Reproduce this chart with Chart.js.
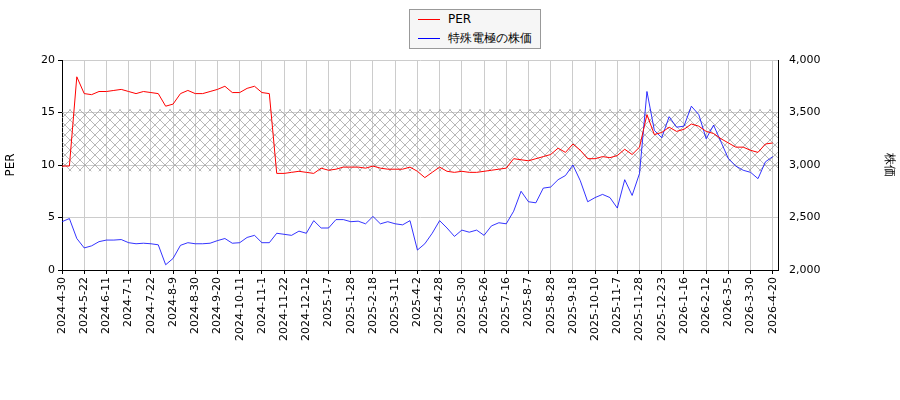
<!DOCTYPE html>
<html lang="ja">
<head>
<meta charset="UTF-8">
<title>PER</title>
<script src="https://cdn.jsdelivr.net/npm/chart.js"></script>
<style>
  body { margin: 0; background: #fff; }
  #wrap { position: relative; width: 900px; height: 400px; }
  .legend { position: absolute; left: 409px; top: 9px; width: 130px; height: 38px; border: 1px solid #999; background: #f6f6f6;
            font: 12px "DejaVu Sans", sans-serif; }
  .legend div { position: absolute; left: 8px; }
  .legend span { display: inline-block; width: 22px; height: 0; border-top: 1px solid; vertical-align: middle; margin-right: 8px; }
</style>
</head>
<body>
<div id="wrap">
  <canvas id="chart" width="900" height="400"></canvas>
  <div class="legend">
    <div style="top:2px"><span style="border-color:red"></span>PER</div>
    <div style="top:20px"><span style="border-color:blue"></span>特殊電極の株価</div>
  </div>
</div>
<script>
  // one point every 5 trading days, one tick label every 3 points
  const tickLabels = ['2024-4-30','2024-5-22','2024-6-11','2024-7-1','2024-7-22','2024-8-9','2024-8-30','2024-9-20',
    '2024-10-11','2024-11-1','2024-11-22','2024-12-12','2025-1-7','2025-1-28','2025-2-18','2025-3-11','2025-4-2',
    '2025-4-28','2025-5-30','2025-6-26','2025-7-16','2025-8-7','2025-8-28','2025-9-18','2025-10-10','2025-11-7',
    '2025-11-28','2025-12-23','2026-1-16','2026-2-12','2026-3-5','2026-3-30','2026-4-20'];

  const perValues = [9.9,9.9,18.4,16.8,16.7,17.0,17.0,17.1,17.2,17.0,16.8,17.0,16.9,16.8,15.6,15.8,16.8,17.1,16.8,16.8,
    17.0,17.2,17.5,16.9,16.9,17.3,17.5,16.9,16.8,9.2,9.2,9.3,9.4,9.3,9.2,9.7,9.5,9.6,9.8,9.8,
    9.8,9.7,9.9,9.7,9.6,9.6,9.6,9.8,9.4,8.8,9.3,9.8,9.4,9.3,9.4,9.3,9.3,9.4,9.5,9.6,
    9.7,10.6,10.5,10.4,10.6,10.8,11.0,11.6,11.2,12.0,11.4,10.6,10.6,10.8,10.7,10.9,11.5,11.0,11.7,14.8,
    12.9,13.1,13.6,13.2,13.4,13.9,13.7,13.2,13.0,12.5,12.1,11.7,11.7,11.4,11.2,12.0,12.1];

  const priceValues = [2460,2490,2300,2210,2230,2270,2285,2285,2290,2260,2250,2255,2250,2240,2050,2110,2235,2260,2250,2250,
    2255,2280,2300,2255,2260,2310,2330,2260,2260,2350,2340,2330,2370,2350,2470,2400,2400,2480,2480,2460,
    2465,2440,2510,2440,2460,2440,2430,2470,2190,2250,2350,2470,2400,2320,2380,2360,2380,2330,2420,2450,
    2440,2560,2750,2650,2640,2780,2790,2860,2900,3000,2850,2650,2690,2720,2690,2590,2860,2710,2920,3700,
    3330,3260,3460,3360,3370,3560,3480,3250,3380,3220,3060,2990,2950,2930,2870,3030,3080];

  const band = [9.4, 15.3];

  const font = { family: 'DejaVu Sans', size: 11 };

  const hatchPlugin = {
    id: 'hatch',
    beforeDatasetsDraw(chart) {
      const { ctx, chartArea, scales } = chart;
      const yTop = scales.y.getPixelForValue(band[1]);
      const yBot = scales.y.getPixelForValue(band[0]);
      const p = document.createElement('canvas');
      p.width = 10; p.height = 10;
      const pc = p.getContext('2d');
      pc.strokeStyle = '#999';
      pc.lineWidth = 0.7;
      pc.beginPath();
      pc.moveTo(0, 0); pc.lineTo(10, 10);
      pc.moveTo(10, 0); pc.lineTo(0, 10);
      pc.stroke();
      ctx.save();
      ctx.fillStyle = ctx.createPattern(p, 'repeat');
      ctx.fillRect(chartArea.left, yTop, chartArea.right - chartArea.left, yBot - yTop);
      ctx.restore();
    }
  };

  new Chart(document.getElementById('chart'), {
    type: 'line',
    data: {
      datasets: [{
        label: 'PER',
        data: perValues.map((v, i) => ({ x: i, y: v })),
        borderColor: 'red', borderWidth: 1, pointRadius: 0, yAxisID: 'y'
      }, {
        label: '特殊電極の株価',
        data: priceValues.map((v, i) => ({ x: i, y: v })),
        borderColor: 'blue', borderWidth: 0.8, pointRadius: 0, yAxisID: 'y2'
      }]
    },
    options: {
      responsive: false,
      animation: false,
      layout: { padding: { top: 60 } },
      plugins: { legend: { display: false }, tooltip: { enabled: false } },
      scales: {
        x: {
          type: 'linear', min: 0, max: 96.7,
          afterBuildTicks(s) { s.ticks = tickLabels.map((t, i) => ({ value: i * 3 })); },
          afterFit(s) { s.height = 130; },
          ticks: { color: '#000', font, maxRotation: 90, minRotation: 90, autoSkip: false,
                   callback: v => tickLabels[Math.round(v / 3)] },
          grid: { color: '#ccc', drawTicks: true, tickColor: '#000', tickLength: 4 },
          border: { color: '#000' }
        },
        y: {
          position: 'left', min: 0, max: 20,
          afterFit(s) { s.width = 62; },
          ticks: { stepSize: 5, color: '#000', font },
          grid: { color: '#ccc', tickColor: '#000', tickLength: 4 },
          border: { color: '#000' },
          title: { display: true, text: 'PER', color: '#000', font: { family: 'DejaVu Sans', size: 12 } }
        },
        y2: {
          position: 'right', min: 2000, max: 4000,
          afterFit(s) { s.width = 122; },
          ticks: { stepSize: 500, color: '#000', font },
          grid: { display: false, drawOnChartArea: false },
          border: { color: '#000' },
          title: { display: true, text: '株価', color: '#000', font: { family: 'DejaVu Sans', size: 12 } }
        }
      }
    },
    plugins: [hatchPlugin]
  });
</script>
</body>
</html>
